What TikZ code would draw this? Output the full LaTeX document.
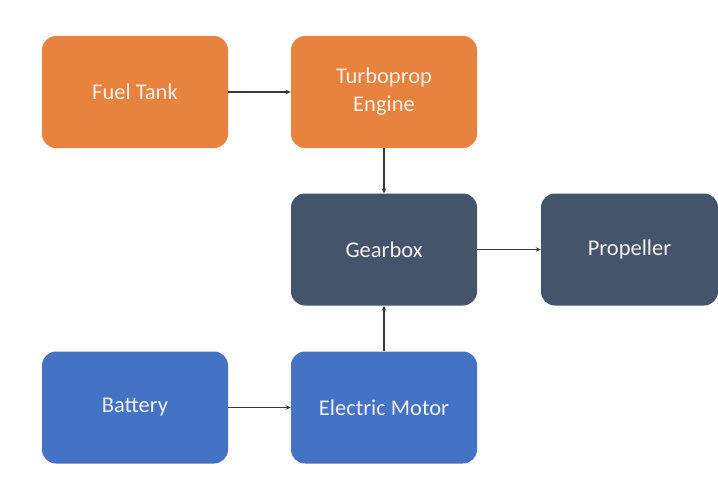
\documentclass[tikz,border=0pt]{standalone}
\usepackage{fontspec}
\setmainfont{Carlito}
\usetikzlibrary{arrows.meta}
\definecolor{orng}{HTML}{E8823F}
\definecolor{slate}{HTML}{44546A}
\definecolor{blu}{HTML}{4472C4}
\definecolor{txt}{HTML}{F4F0EC}
\definecolor{arr}{HTML}{383838}
\begin{document}
\begin{tikzpicture}[x=1pt,y=-1pt,
  blk/.style={rounded corners=14pt, minimum width=186pt, minimum height=112pt, inner sep=0pt,
    text=txt, font=\fontsize{22.5}{28}\selectfont, align=center},
  conn/.style={draw=arr, line width=1.5pt, -{Stealth[length=5pt,width=4.5pt]}}]
\useasboundingbox (0,0) rectangle (718,477);
\fill[white] (0,0) rectangle (718,477);
\node[blk, fill=orng] (fuel) at (135,92) {Fuel Tank};
\node[blk, fill=orng] (turbo) at (384,92) {Turboprop\\Engine};
\node[blk, fill=slate] (gear) at (384,249.5) {Gearbox};
\node[blk, fill=slate, minimum width=177pt] (prop) at (629.5,249.5) {Propeller};
\node[blk, fill=blu] (bat) at (135,407.5) {Battery};
\node[blk, fill=blu] (motor) at (384,407.5) {Electric Motor};
\draw[conn] (fuel) -- (turbo);
\draw[conn] (turbo) -- (gear);
\draw[conn] (gear) -- (prop);
\draw[conn] (bat) -- (motor);
\draw[conn] (motor) -- (gear);
\end{tikzpicture}
\end{document}
